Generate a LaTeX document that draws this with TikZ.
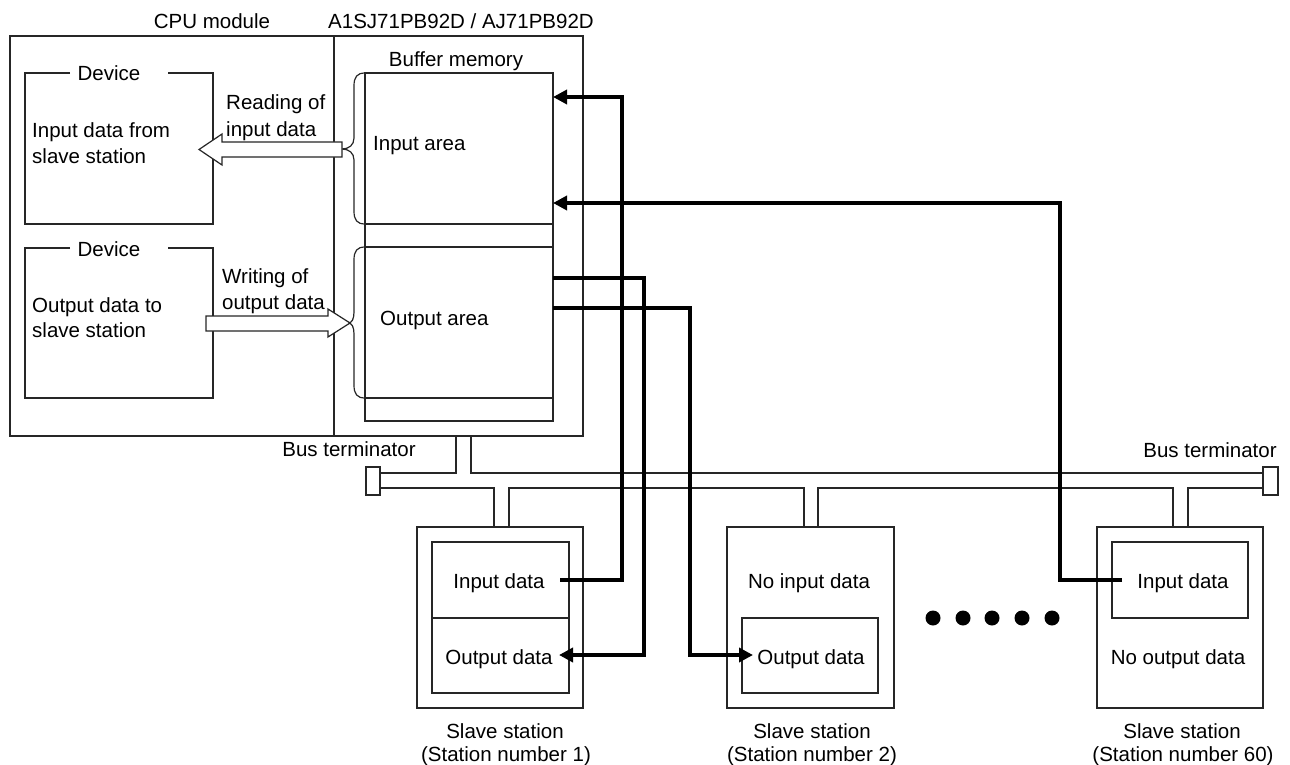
\documentclass[tikz,border=0pt]{standalone}
\usepackage{fontspec}
\setmainfont{Liberation Sans}
\usetikzlibrary{arrows.meta}
\begin{document}
\begin{tikzpicture}[x=1pt,y=-1pt,
  ln/.style={draw=black!85, line width=1.2pt},
  boxn/.style={ln, anchor=north west, inner sep=0pt, outer sep=0pt},
  conn/.style={line width=3.5pt, -{Triangle[length=14pt,width=14pt]}},
  lbl/.style={inner sep=0pt, font=\fontsize{20.5}{25}\selectfont},
  dotn/.style={circle, fill=black, minimum size=15pt, inner sep=0pt}
]
\useasboundingbox (0,0) rectangle (1290,765);

% titles
\node[lbl, anchor=base] (cpulbl) at (212,29) {CPU module};
\node[lbl, anchor=base] (modlbl) at (461,29) {A1SJ71PB92D / AJ71PB92D};

% main boxes
\node[boxn, minimum width=324pt, minimum height=400pt] (cpu) at (10,36) {};
\node[boxn, minimum width=249pt, minimum height=400pt] (mod) at (334,36) {};

% device boxes
\draw[ln] (70,73) -- (25,73) -- (25,224) -- (213,224) -- (213,73) -- (168,73);
\node[lbl, anchor=base] (dev1) at (109,81) {Device};
\node[lbl, anchor=base west] (dev1a) at (32,138) {Input data from};
\node[lbl, anchor=base west] (dev1b) at (32,163) {slave station};

\draw[ln] (70,248) -- (25,248) -- (25,398) -- (213,398) -- (213,248) -- (168,248);
\node[lbl, anchor=base] (dev2) at (109,256) {Device};
\node[lbl, anchor=base west] (dev2a) at (32,312) {Output data to};
\node[lbl, anchor=base west] (dev2b) at (32,337) {slave station};

% buffer memory
\node[lbl, anchor=base] (buflbl) at (456,67) {Buffer memory};
\node[boxn, minimum width=188pt, minimum height=348pt] (buf) at (365,73) {};
\draw[ln] (365,224) -- (553,224);
\draw[ln] (365,247) -- (553,247);
\draw[ln] (365,398) -- (553,398);
\node[lbl, anchor=base west] (inarea) at (373,150) {Input area};
\node[lbl, anchor=base west] (outarea) at (380,325) {Output area};

% braces
\draw[ln] (365,73) .. controls (357,73) and (354,77) .. (354,86) -- (354,138)
  .. controls (354,145) and (349,149) .. (342,149)
  .. controls (349,149) and (354,153) .. (354,160) -- (354,211)
  .. controls (354,220) and (357,224) .. (365,224);
\draw[ln] (365,247) .. controls (357,247) and (354,251) .. (354,260) -- (354,312)
  .. controls (354,319) and (352,323) .. (348,323)
  .. controls (352,323) and (354,327) .. (354,334) -- (354,385)
  .. controls (354,394) and (357,398) .. (365,398);

% hollow arrows
\draw[ln, fill=white] (342,142) -- (222,142) -- (222,134) -- (199,149.5) -- (222,165) -- (222,157) -- (342,157) -- cycle;
\node[lbl, anchor=base west] (rd1) at (226,110) {Reading of};
\node[lbl, anchor=base west] (rd2) at (226,136) {input data};

\draw[ln, fill=white] (206,316) -- (328,316) -- (328,309) -- (350,323) -- (328,337) -- (328,331) -- (206,331) -- cycle;
\node[lbl, anchor=base west] (wr1) at (222,283) {Writing of};
\node[lbl, anchor=base west] (wr2) at (222,309) {output data};

% bus
\draw[ln] (456,436) -- (456,473) -- (380,473);
\draw[ln] (471,436) -- (471,473) -- (1263,473);
\draw[ln] (380,488) -- (494,488) -- (494,527);
\draw[ln] (509,527) -- (509,488) -- (804,488) -- (804,527);
\draw[ln] (818,527) -- (818,488) -- (1173,488) -- (1173,527);
\draw[ln] (1188,527) -- (1188,488) -- (1263,488);
\node[boxn, fill=white, minimum width=14pt, minimum height=28pt] (termL) at (366,467) {};
\node[boxn, fill=white, minimum width=15pt, minimum height=28pt] (termR) at (1263,467) {};
\node[lbl, anchor=base] (termLl) at (349,456) {Bus terminator};
\node[lbl, anchor=base] (termRl) at (1210,457) {Bus terminator};

% slave station 1
\node[boxn, minimum width=166pt, minimum height=181pt] (s1) at (417,527) {};
\node[boxn, minimum width=137pt, minimum height=151pt] (s1i) at (432,542) {};
\draw[ln] (432,618) -- (569,618);
\node[lbl, anchor=base] (s1in) at (499,588) {Input data};
\node[lbl, anchor=base] (s1out) at (499,664) {Output data};
\node[lbl, anchor=base] (s1l1) at (505,738) {Slave station};
\node[lbl, anchor=base] (s1l2) at (506,761) {(Station number 1)};

% slave station 2
\node[boxn, minimum width=167pt, minimum height=181pt] (s2) at (727,527) {};
\node[boxn, minimum width=136pt, minimum height=75pt] (s2i) at (742,618) {};
\node[lbl, anchor=base] (s2in) at (809,588) {No input data};
\node[lbl, anchor=base] (s2out) at (811,664) {Output data};
\node[lbl, anchor=base] (s2l1) at (812,738) {Slave station};
\node[lbl, anchor=base] (s2l2) at (812,761) {(Station number 2)};

% slave station 60
\node[boxn, minimum width=166pt, minimum height=181pt] (s60) at (1097,527) {};
\node[boxn, minimum width=136pt, minimum height=76pt] (s60i) at (1112,542) {};
\node[lbl, anchor=base] (s60in) at (1183,588) {Input data};
\node[lbl, anchor=base] (s60out) at (1178,664) {No output data};
\node[lbl, anchor=base] (s60l1) at (1182,738) {Slave station};
\node[lbl, anchor=base] (s60l2) at (1183,761) {(Station number 60)};

% dots
\node[dotn] (d1) at (933,618) {};
\node[dotn] (d2) at (963,618) {};
\node[dotn] (d3) at (992,618) {};
\node[dotn] (d4) at (1022,618) {};
\node[dotn] (d5) at (1052,618) {};

% connection points
\coordinate (s1inR) at (560,580);
\coordinate (bufIn1) at (553,97);
\coordinate (s60inL) at (1122,580);
\coordinate (bufIn2) at (553,203);
\coordinate (bufOut1) at (553,278);
\coordinate (s1outR) at (559,655);
\coordinate (bufOut2) at (553,308);
\coordinate (s2outL) at (753,655);

\draw[conn] (s1inR) -- (622,580) -- (622,97) -- (bufIn1);
\draw[conn] (s60inL) -- (1060,580) -- (1060,203) -- (bufIn2);
\draw[conn] (bufOut1) -- (644,278) -- (644,655) -- (s1outR);
\draw[conn] (bufOut2) -- (690,308) -- (690,655) -- (s2outL);
\end{tikzpicture}
\end{document}
